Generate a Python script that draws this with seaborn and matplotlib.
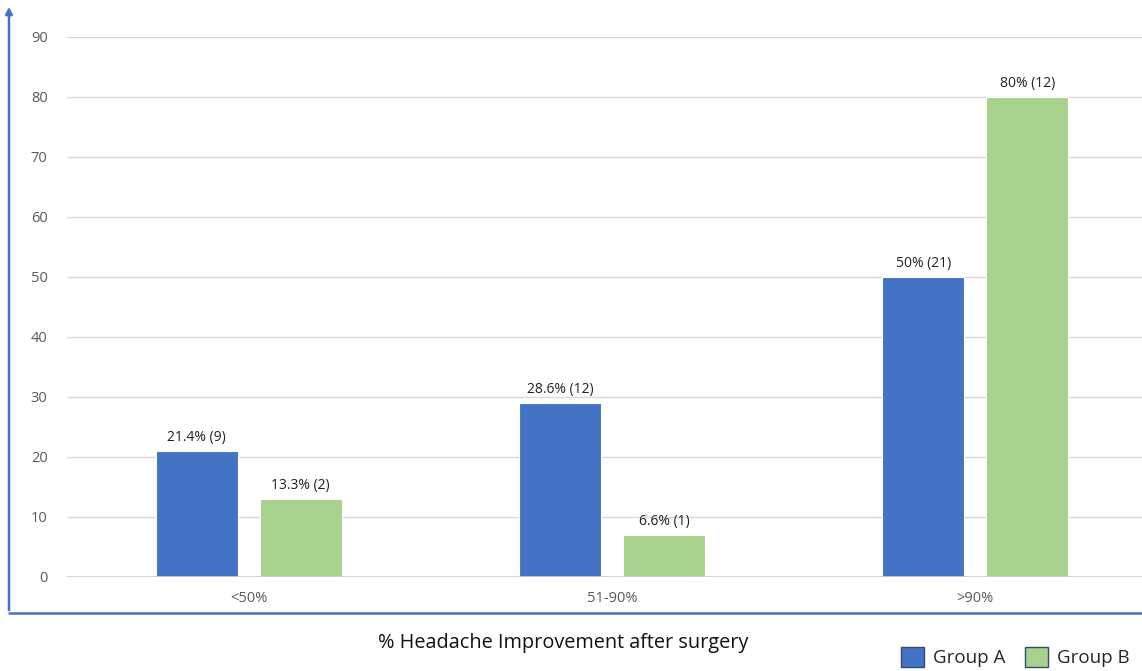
import matplotlib
matplotlib.use("Agg")
import matplotlib.pyplot as plt
import pandas as pd
import seaborn as sns
from matplotlib.lines import Line2D
from matplotlib.patches import FancyArrowPatch, Patch

# data
categories = ["<50%", "51-90%", ">90%"]
groups = ["Group A", "Group B"]
group_a_values = [21, 29, 50]
group_b_values = [13, 7, 80]
group_a_labels = ["21.4% (9)", "28.6% (12)", "50% (21)"]
group_b_labels = ["13.3% (2)", "6.6% (1)", "80% (12)"]
y_ticks = [0, 10, 20, 30, 40, 50, 60, 70, 80, 90]

BLUE = "#4472C4"
GREEN = "#A9D18E"

df = pd.DataFrame({
    "category": categories * 2,
    "group": [groups[0]] * 3 + [groups[1]] * 3,
    "value": group_a_values + group_b_values,
})

sns.set_theme(style="white")
plt.rcParams["font.family"] = ["Open Sans", "DejaVu Sans"]

fig = plt.figure(figsize=(11.42, 6.71), dpi=100)
ax = fig.add_axes([67 / 1142, 1 - 577 / 671, 1 - 67 / 1142, (577 - 37) / 671])

sns.barplot(data=df, x="category", y="value", hue="group", order=categories,
            hue_order=groups, palette=[BLUE, GREEN], width=0.573, gap=0.21,
            saturation=1, ax=ax, legend=False, linewidth=0.8)

for container, labels in zip(ax.containers, [group_a_labels, group_b_labels]):
    ax.bar_label(container, labels=labels, padding=4, fontsize=10, color="#222222")

ax.set_ylim(0, 90)
ax.set_xlim(-0.5, 2.5 - 15 / 363.5)
ax.set_yticks(y_ticks)
ax.yaxis.grid(True, color="#d9d9d9", linewidth=1)
ax.set_axisbelow(True)
ax.axhline(0, color="#cfcfcf", linewidth=1.2, zorder=1)
for side in ["top", "right", "left", "bottom"]:
    ax.spines[side].set_visible(False)
ax.tick_params(axis="both", length=0, labelsize=10.5, labelcolor="#595959")
ax.tick_params(axis="y", pad=14)
ax.tick_params(axis="x", pad=10)
ax.set_xlabel("")
ax.set_ylabel("")

# blue frame with arrow on the left
fig.add_artist(Line2D([9 / 1142, 1.0], [1 - 613 / 671, 1 - 613 / 671],
                      color=BLUE, linewidth=1.8, transform=fig.transFigure))
fig.add_artist(FancyArrowPatch((9 / 1142, 1 - 613 / 671), (9 / 1142, 1 - 4 / 671),
                               transform=fig.transFigure, arrowstyle="-|>",
                               mutation_scale=10, color=BLUE, linewidth=1.8))

fig.text(563 / 1142, 1 - 643 / 671, "% Headache Improvement after surgery",
         ha="center", va="center", fontsize=14.3, color="#111111")

handles = [Patch(facecolor=BLUE, edgecolor="#2f4f6f", label=groups[0]),
           Patch(facecolor=GREEN, edgecolor="#2f4f6f", label=groups[1])]
fig.legend(handles=handles, loc="center right", bbox_to_anchor=(1 - 12 / 1142, 14 / 671),
           ncol=2, frameon=False, fontsize=13.5, handlelength=1.25, handleheight=1.25,
           handletextpad=0.5, columnspacing=1.0, borderpad=0, borderaxespad=0)

fig.savefig("out.png", dpi=100)
